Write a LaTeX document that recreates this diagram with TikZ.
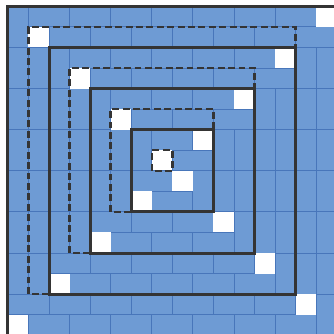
\documentclass[tikz,border=0pt]{standalone}
\usepackage{tikz}
\usepackage{xcolor}
\definecolor{tileblue}{RGB}{110, 155, 212}
\definecolor{tileedge}{RGB}{72, 118, 186}
\definecolor{wallgray}{RGB}{52, 52, 52}

\begin{document}
\begin{tikzpicture}[x=0.5cm, y=-0.5cm,
    brick/.style={fill=tileblue, draw=tileedge, line width=0.6pt},
    hole/.style={fill=white},
    wall/.style={draw=wallgray, line width=2.1pt},
    trail/.style={draw=wallgray, line width=1.7pt, dash pattern=on 4.8pt off 2.4pt}]
% Frame of the picture (the outer ring is cut at the right and bottom)
\fill[white] (-0.385,-0.31) rectangle (15.82,15.94);
\useasboundingbox (-0.385,-0.31) rectangle (15.82,15.94);

% Bricks: each ring a..16-a, top-left half, then turned by 180 degrees
\foreach \turn in {0,180} {
\begin{scope}[rotate around={\turn:(8,8)}]
    \foreach \a in {0,2,4,6} {
        \pgfmathtruncatemacro{\b}{16-\a}
        \pgfmathtruncatemacro{\m}{6-\a}
        \foreach \k in {0,...,\m} {
            \pgfmathtruncatemacro{\p}{\a+2*\k}
            % left column, standing bricks
            \draw[brick] (\a,\p) rectangle ++(1,2);
            \ifnum\k>0
                \draw[brick] (\a+1,\p) rectangle ++(1,2);
            \fi
            % top row, lying bricks
            \draw[brick] (\p+1,\a) rectangle ++(2,1);
            \draw[brick] (\p+2,\a+1) rectangle ++(2,1);
        }
        % empty cells
        \fill[hole] (\a+1,\a+1) rectangle ++(1,1);
        \fill[hole] (\b-1,\a) rectangle ++(1,1);
    }
\end{scope}
}

% Solid squares and dashed paths between them
\foreach \a in {0,2,4,6} {
    \pgfmathtruncatemacro{\b}{16-\a}
    \draw[wall] (\a,\a) rectangle (\b,\b);
    \draw[trail] (\a+2,\b-2) -- (\a+1,\b-2) -- (\a+1,\a+1) -- (\b-2,\a+1) -- (\b-2,\a+2);
}
\end{tikzpicture}
\end{document}
